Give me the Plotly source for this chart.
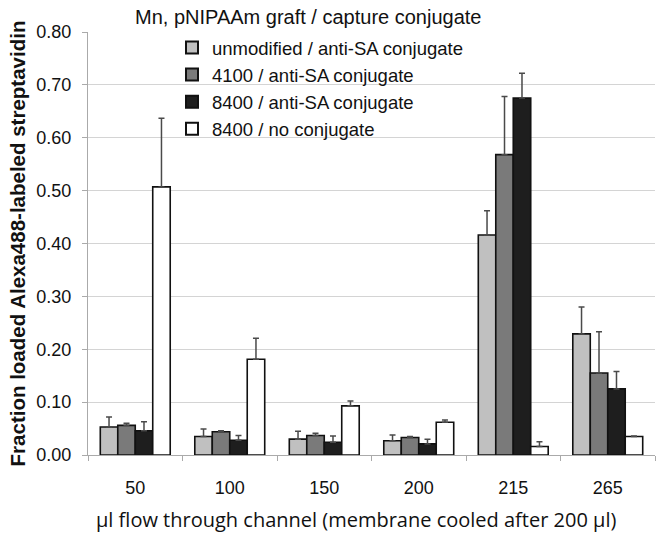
import plotly.graph_objects as go

categories = ["50", "100", "150", "200", "215", "265"]
series_names = ["unmodified / anti-SA conjugate", "4100 / anti-SA conjugate",
                "8400 / anti-SA conjugate", "8400 / no conjugate"]
unmodified = [0.053, 0.035, 0.030, 0.027, 0.416, 0.229]
unmodified_err = [0.019, 0.014, 0.015, 0.011, 0.046, 0.051]
p4100 = [0.056, 0.044, 0.037, 0.033, 0.568, 0.155]
p4100_err = [0.004, 0.002, 0.004, 0.002, 0.110, 0.078]
p8400 = [0.046, 0.028, 0.024, 0.021, 0.675, 0.125]
p8400_err = [0.017, 0.009, 0.012, 0.009, 0.047, 0.033]
noconj = [0.507, 0.181, 0.093, 0.062, 0.016, 0.035]
noconj_err = [0.130, 0.040, 0.009, 0.004, 0.009, 0.001]
y_ticks = [0.0, 0.1, 0.2, 0.3, 0.4, 0.5, 0.6, 0.7, 0.8]

colors = ["#c0c0c0", "#7a7a7a", "#1e1e1e", "#ffffff"]
values = [unmodified, p4100, p8400, noconj]
errors = [unmodified_err, p4100_err, p8400_err, noconj_err]

fig = go.Figure()
for name, v, e, c in zip(series_names, values, errors, colors):
    fig.add_trace(go.Bar(
        x=categories, y=v, name=name,
        marker=dict(color=c, line=dict(color="#111111", width=1.6)),
        error_y=dict(type="data", array=e, arrayminus=[0]*len(e), symmetric=False,
                     color="#4a4a4a", thickness=1.5, width=3),
    ))

fig.update_layout(
    width=662, height=535,
    margin=dict(l=88, r=7, t=32, b=80),
    paper_bgcolor="white", plot_bgcolor="white",
    barmode="group", bargap=0.26, bargroupgap=0,
    showlegend=True,
    legend=dict(x=(172-88)/567, y=1.007, xanchor="left", yanchor="top",
                bgcolor="rgba(0,0,0,0)",
                font=dict(family="Liberation Sans, Arial", size=18.5, color="#111111"),
                itemsizing="constant", tracegroupgap=0),
    font=dict(family="Liberation Sans, Arial", color="#111111"),
    annotations=[
        dict(text="Mn, pNIPAAm graft / capture conjugate", xref="paper", yref="paper",
             x=(133-88)/567, y=1 + (32-17)/423, xanchor="left", yanchor="middle",
             showarrow=False,
             font=dict(family="Liberation Sans, Arial", size=20, color="#111111")),
        dict(text="µl flow through channel (membrane cooled after 200 µl)",
             xref="paper", yref="paper",
             x=(356-88)/567, y=-(519-455)/423, xanchor="center", yanchor="middle",
             showarrow=False,
             font=dict(family="Open Sans, DejaVu Sans", size=20, color="#111111")),
    ],
)
fig.update_xaxes(
    type="category", tickson="boundaries", ticks="outside", ticklen=5, tickcolor="#aaaaaa",
    showline=True, linecolor="#aaaaaa", linewidth=1, ticklabelstandoff=16,
    tickfont=dict(family="Liberation Sans, Arial", size=18, color="#111111"),
)
fig.update_yaxes(
    range=[0, 0.8], tickvals=y_ticks, tickformat=".2f",
    showgrid=True, gridcolor="#d4d4d4", gridwidth=1,
    showline=True, linecolor="#aaaaaa", ticks="outside", ticklen=5, tickcolor="#aaaaaa",
    zeroline=False, ticklabelstandoff=7,
    tickfont=dict(family="Liberation Sans, Arial", size=18, color="#111111"),
    title=dict(text="<b>Fraction loaded Alexa488-labeled streptavidin</b>",
               font=dict(family="Liberation Sans, Arial", size=20.5, color="#111111"), standoff=5),
)
fig.write_html("out.html", config={"displayModeBar": False},
               post_script="document.body.style.margin='0';")
